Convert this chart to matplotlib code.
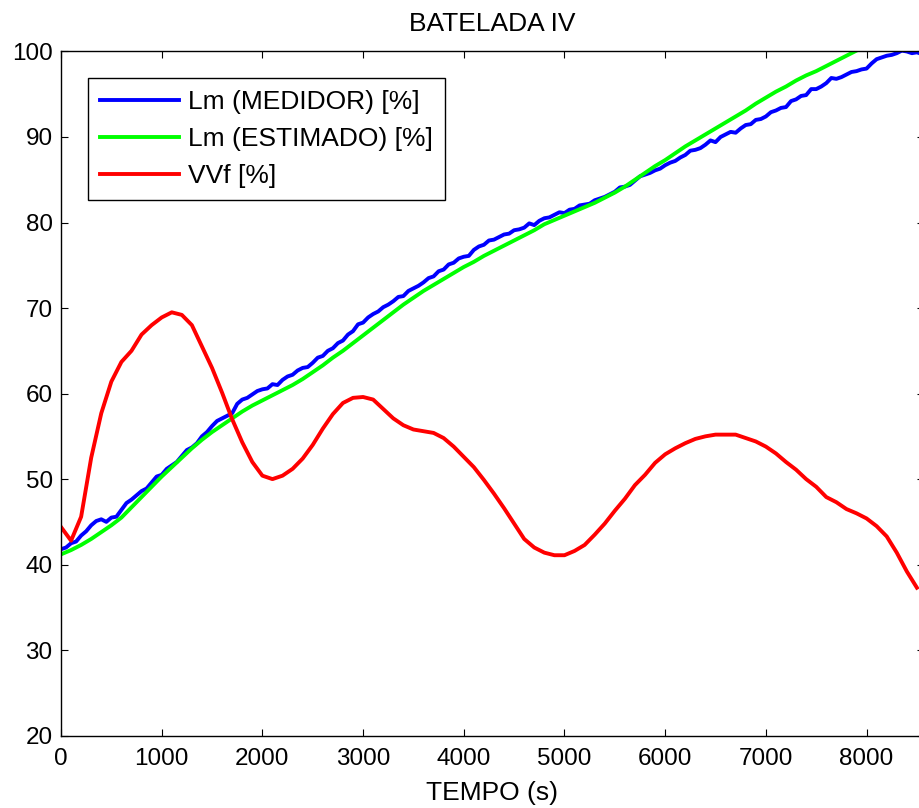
import numpy as np
import matplotlib
matplotlib.use('Agg')
import matplotlib.pyplot as plt

plt.rcParams['font.family'] = ['Liberation Sans', 'DejaVu Sans']

# tempo (s) para a medicao do nivel (amostras de 50 s)
tempo_med = list(range(0, 8600, 50))
lm_medidor = [
    41.8, 42.0, 42.5, 42.7, 43.4, 43.9, 44.6, 45.1, 45.3, 45.0,
    45.5, 45.6, 46.4, 47.2, 47.6, 48.1, 48.6, 48.9, 49.6, 50.3,
    50.5, 51.2, 51.6, 52.0, 52.7, 53.4, 53.7, 54.2, 55.0, 55.5,
    56.2, 56.8, 57.1, 57.4, 57.7, 58.8, 59.3, 59.5, 59.9, 60.3,
    60.5, 60.6, 61.1, 61.0, 61.6, 62.0, 62.2, 62.7, 63.0, 63.1,
    63.6, 64.2, 64.4, 65.0, 65.3, 65.9, 66.2, 66.9, 67.3, 68.1,
    68.3, 68.9, 69.3, 69.6, 70.1, 70.4, 70.8, 71.3, 71.4, 72.0,
    72.3, 72.6, 73.0, 73.5, 73.7, 74.3, 74.5, 75.1, 75.3, 75.8,
    76.0, 76.1, 76.8, 77.2, 77.4, 77.9, 78.0, 78.3, 78.6, 78.7,
    79.1, 79.2, 79.4, 79.9, 79.7, 80.2, 80.5, 80.6, 80.9, 81.2,
    81.1, 81.5, 81.6, 82.0, 82.1, 82.2, 82.6, 82.8, 83.0, 83.3,
    83.6, 84.1, 84.2, 84.4, 84.9, 85.4, 85.6, 85.8, 86.1, 86.3,
    86.7, 87.0, 87.2, 87.6, 87.9, 88.4, 88.5, 88.7, 89.1, 89.6,
    89.4, 90.0, 90.3, 90.6, 90.5, 91.0, 91.4, 91.5, 92.0, 92.1,
    92.4, 92.9, 93.1, 93.4, 93.5, 94.2, 94.4, 94.8, 94.9, 95.6,
    95.6, 95.9, 96.3, 96.9, 96.8, 97.0, 97.3, 97.6, 97.7, 97.9,
    98.0, 98.6, 99.1, 99.3, 99.5, 99.6, 99.8, 100.1, 100.0, 99.8,
    99.9, 99.7,
]

# tempo (s) para estimativa e VVf (amostras de 100 s)
tempo = list(range(0, 8600, 100))
lm_estimado = [
    41.2, 41.7, 42.3, 43.0, 43.8, 44.6, 45.5, 46.7, 47.9, 49.1,
    50.3, 51.4, 52.5, 53.6, 54.6, 55.5, 56.3, 57.1, 57.9, 58.6,
    59.2, 59.8, 60.4, 61.0, 61.7, 62.5, 63.3, 64.2, 65.0, 65.9,
    66.8, 67.7, 68.6, 69.5, 70.4, 71.2, 72.0, 72.7, 73.4, 74.1,
    74.8, 75.4, 76.1, 76.7, 77.3, 77.9, 78.5, 79.1, 79.8, 80.3,
    80.8, 81.3, 81.8, 82.3, 82.9, 83.5, 84.2, 85.0, 85.8, 86.6,
    87.3, 88.1, 88.9, 89.6, 90.3, 91.0, 91.7, 92.4, 93.1, 93.9,
    94.6, 95.3, 95.9, 96.6, 97.2, 97.7, 98.3, 98.9, 99.5, 100.1,
    100.7, 101.3, 101.9, 102.5, 103.1, 103.7,
]
vvf = [
    44.4, 42.8, 45.6, 52.5, 57.7, 61.4, 63.7, 65.0, 66.9, 68.0,
    68.9, 69.5, 69.2, 68.0, 65.5, 63.0, 60.1, 57.0, 54.3, 52.0,
    50.4, 50.0, 50.4, 51.2, 52.4, 54.0, 55.9, 57.6, 58.9, 59.5,
    59.6, 59.3, 58.2, 57.1, 56.3, 55.8, 55.6, 55.4, 54.8, 53.8,
    52.6, 51.4, 49.9, 48.3, 46.6, 44.8, 43.0, 42.0, 41.4, 41.1,
    41.1, 41.6, 42.3, 43.5, 44.8, 46.3, 47.7, 49.3, 50.5, 51.9,
    52.9, 53.6, 54.2, 54.7, 55.0, 55.2, 55.2, 55.2, 54.8, 54.4,
    53.8, 53.0, 52.0, 51.1, 50.0, 49.1, 47.9, 47.3, 46.5, 46.0,
    45.4, 44.5, 43.3, 41.4, 39.2, 37.3,
]

xticks = [0, 1000, 2000, 3000, 4000, 5000, 6000, 7000, 8000]
yticks = [20, 30, 40, 50, 60, 70, 80, 90, 100]

fig = plt.figure(figsize=(9.2, 8.08), dpi=100)
ax = fig.add_axes([0.0663, 0.0895, 0.938, 0.8468])

ax.plot(tempo_med, lm_medidor, color=(0, 0, 1), linewidth=2.8, label='Lm (MEDIDOR) [%]')
ax.plot(tempo, lm_estimado, color=(0, 1, 0), linewidth=2.8, label='Lm (ESTIMADO) [%]')
ax.plot(tempo, vvf, color=(1, 0, 0), linewidth=2.8, label='VVf [%]')

ax.set_xlim(0, 8570)
ax.set_ylim(20, 100)
ax.set_xticks(xticks)
ax.set_yticks(yticks)
ax.tick_params(direction='in', length=5, width=0.8, labelsize=17.5,
               top=True, right=True)
ax.tick_params(axis='x', pad=9)
ax.tick_params(axis='y', pad=6)
for s in ax.spines.values():
    s.set_linewidth(1.0)

ax.set_title('BATELADA IV', fontsize=19, pad=15)
ax.set_xlabel('TEMPO (s)', fontsize=19, labelpad=8)

leg = ax.legend(loc='upper left', bbox_to_anchor=(0.0313, 0.961), borderaxespad=0,
                fontsize=19, fancybox=False, framealpha=1, edgecolor='black',
                handlelength=3.0, handletextpad=0.35, labelspacing=0.5, borderpad=0.45)
leg.get_frame().set_linewidth(1.0)

fig.savefig('out.png', dpi=100)
